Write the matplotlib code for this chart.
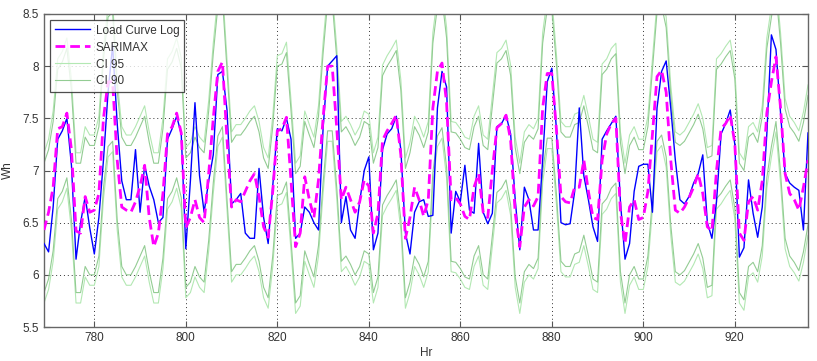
import numpy as np
import matplotlib
matplotlib.use("Agg")
import matplotlib.pyplot as plt

plt.rcParams["font.family"] = ["Liberation Sans", "DejaVu Sans"]

hours = np.arange(769, 937)

load_log = [
    6.30, 6.22, 6.65, 7.30, 7.38, 7.50, 7.05, 6.15, 6.50, 6.75, 6.45, 6.20,
    6.55, 7.10, 7.75, 8.20, 7.45, 6.90, 6.72, 6.72, 7.20, 6.60, 7.05, 6.85,
    6.72, 6.50, 6.55, 7.30, 7.40, 7.52, 7.35, 6.25, 6.90, 7.65, 6.95, 6.60,
    6.90, 7.15, 7.92, 7.95, 7.58, 6.68, 6.72, 6.78, 6.40, 6.35, 6.35, 7.02,
    6.55, 6.30, 6.85, 7.40, 7.38, 7.50, 7.30, 6.35, 6.40, 6.65, 6.60, 6.50,
    6.43, 7.40, 8.00, 8.05, 8.10, 6.50, 6.75, 6.43, 6.35, 6.70, 7.00, 7.13,
    6.24, 6.40, 7.20, 7.35, 7.40, 7.52, 7.20, 6.40, 6.20, 6.60, 6.70, 6.72,
    6.56, 6.57, 7.60, 7.95, 7.80, 6.40, 6.80, 6.70, 7.05, 6.62, 6.59, 7.26,
    6.60, 6.49, 6.59, 7.42, 7.45, 7.53, 7.35, 6.72, 6.24, 6.84, 6.72, 6.43,
    6.43, 7.10, 7.85, 7.98, 7.40, 6.50, 6.48, 6.49, 6.80, 7.60, 6.95, 6.72,
    6.46, 6.32, 7.30, 7.38, 7.45, 7.52, 6.70, 6.15, 6.30, 6.80, 7.04, 7.06,
    7.06, 6.60, 7.60, 7.95, 8.05, 7.60, 7.10, 6.72, 6.68, 6.75, 6.88, 6.97,
    7.15, 6.50, 6.35, 6.70, 7.35, 7.45, 7.58, 7.25, 6.17, 6.26, 6.91, 6.59,
    6.36, 6.65, 7.35, 8.30, 8.16, 7.55, 6.97, 6.88, 6.84, 6.81, 6.43, 7.36,
]

sarimax = [
    6.43, 6.60, 6.84, 7.40, 7.42, 7.55, 7.20, 6.42, 6.40, 6.75, 6.60, 6.62,
    6.78, 7.50, 7.85, 7.85, 7.10, 6.65, 6.62, 6.60, 6.70, 6.85, 7.05, 6.55,
    6.27, 6.40, 6.78, 7.35, 7.42, 7.55, 7.36, 6.45, 6.55, 6.72, 6.55, 6.50,
    6.97, 7.50, 7.95, 8.04, 7.30, 6.65, 6.72, 6.70, 6.80, 6.90, 6.97, 6.75,
    6.46, 6.36, 6.80, 7.38, 7.40, 7.51, 6.90, 6.27, 6.40, 6.94, 6.72, 6.55,
    6.91, 7.50, 8.00, 8.00, 7.40, 6.72, 6.84, 6.72, 6.60, 6.70, 6.91, 6.85,
    6.40, 6.59, 7.29, 7.38, 7.45, 7.53, 7.15, 6.35, 6.55, 6.84, 6.72, 6.56,
    6.72, 7.60, 7.95, 8.03, 7.65, 6.72, 6.74, 6.68, 6.56, 6.53, 6.84, 6.97,
    6.60, 6.55, 7.00, 7.41, 7.45, 7.53, 7.29, 6.59, 6.27, 6.65, 6.72, 6.66,
    6.75, 7.60, 7.93, 7.93, 7.40, 6.75, 6.70, 6.69, 6.84, 6.84, 7.10, 6.80,
    6.55, 6.53, 7.10, 7.35, 7.45, 7.50, 6.60, 6.30, 6.65, 6.72, 6.53, 6.55,
    6.80, 7.35, 7.90, 7.96, 7.75, 7.10, 6.62, 6.59, 6.65, 6.74, 6.84, 6.97,
    6.78, 6.46, 6.42, 7.00, 7.40, 7.45, 7.53, 7.26, 6.40, 6.33, 6.70, 6.75,
    6.62, 6.90, 7.55, 7.85, 8.09, 7.60, 6.97, 6.78, 6.72, 6.62, 6.84, 7.10,
]

ci95_hi = [
    7.17, 7.30, 7.57, 8.07, 8.14, 8.27, 7.87, 7.17, 7.17, 7.42, 7.34, 7.34,
    7.52, 8.17, 8.57, 8.62, 7.87, 7.42, 7.34, 7.34, 7.42, 7.52, 7.62, 7.37,
    7.17, 7.17, 7.50, 8.07, 8.14, 8.27, 8.08, 7.22, 7.27, 7.42, 7.32, 7.27,
    7.67, 8.22, 8.67, 8.76, 8.07, 7.37, 7.44, 7.44, 7.50, 7.57, 7.62, 7.47,
    7.22, 7.12, 7.52, 8.10, 8.12, 8.23, 7.67, 7.07, 7.14, 7.57, 7.44, 7.32,
    7.62, 8.22, 8.72, 8.72, 8.17, 7.47, 7.52, 7.44, 7.34, 7.42, 7.57, 7.54,
    7.17, 7.32, 8.01, 8.10, 8.17, 8.25, 7.87, 7.12, 7.27, 7.52, 7.44, 7.32,
    7.47, 8.32, 8.67, 8.75, 8.37, 7.47, 7.46, 7.40, 7.32, 7.30, 7.52, 7.62,
    7.34, 7.30, 7.72, 8.13, 8.17, 8.25, 8.01, 7.32, 7.07, 7.37, 7.44, 7.40,
    7.50, 8.32, 8.65, 8.65, 8.12, 7.47, 7.42, 7.42, 7.54, 7.56, 7.72, 7.52,
    7.30, 7.27, 8.02, 8.07, 8.17, 8.22, 7.37, 7.07, 7.34, 7.42, 7.30, 7.30,
    7.52, 8.07, 8.62, 8.68, 8.47, 7.82, 7.37, 7.34, 7.38, 7.46, 7.54, 7.64,
    7.50, 7.22, 7.24, 8.07, 8.12, 8.19, 8.25, 7.98, 7.17, 7.10, 7.42, 7.46,
    7.37, 7.62, 8.27, 8.57, 8.81, 8.32, 7.69, 7.52, 7.46, 7.38, 7.56, 7.82,
]

ci90_hi = [
    7.07, 7.20, 7.47, 7.97, 8.04, 8.17, 7.77, 7.07, 7.07, 7.32, 7.24, 7.24,
    7.42, 8.07, 8.47, 8.52, 7.77, 7.32, 7.24, 7.24, 7.32, 7.42, 7.52, 7.27,
    7.07, 7.07, 7.40, 7.97, 8.04, 8.17, 7.98, 7.12, 7.17, 7.32, 7.22, 7.17,
    7.57, 8.12, 8.57, 8.66, 7.97, 7.27, 7.34, 7.34, 7.40, 7.47, 7.52, 7.37,
    7.12, 7.02, 7.42, 8.00, 8.02, 8.13, 7.57, 6.97, 7.04, 7.47, 7.34, 7.22,
    7.52, 8.12, 8.62, 8.62, 8.07, 7.37, 7.42, 7.34, 7.24, 7.32, 7.47, 7.44,
    7.07, 7.22, 7.91, 8.00, 8.07, 8.15, 7.77, 7.02, 7.17, 7.42, 7.34, 7.22,
    7.37, 8.22, 8.57, 8.65, 8.27, 7.37, 7.36, 7.30, 7.22, 7.20, 7.42, 7.52,
    7.24, 7.20, 7.62, 8.03, 8.07, 8.15, 7.91, 7.22, 6.97, 7.27, 7.34, 7.30,
    7.40, 8.22, 8.55, 8.55, 8.02, 7.37, 7.32, 7.32, 7.44, 7.46, 7.62, 7.42,
    7.20, 7.17, 7.92, 7.97, 8.07, 8.12, 7.27, 6.97, 7.24, 7.32, 7.20, 7.20,
    7.42, 7.97, 8.52, 8.58, 8.37, 7.72, 7.27, 7.24, 7.28, 7.36, 7.44, 7.54,
    7.40, 7.12, 7.14, 7.97, 8.02, 8.09, 8.15, 7.88, 7.07, 7.00, 7.32, 7.36,
    7.27, 7.52, 8.17, 8.47, 8.71, 8.22, 7.59, 7.42, 7.36, 7.28, 7.46, 7.72,
]

ci90_lo = [
    5.83, 5.96, 6.23, 6.73, 6.80, 6.93, 6.53, 5.83, 5.83, 6.08, 6.00, 6.00,
    6.18, 6.83, 7.23, 7.28, 6.53, 6.08, 6.00, 6.00, 6.08, 6.18, 6.28, 6.03,
    5.83, 5.83, 6.16, 6.73, 6.80, 6.93, 6.74, 5.88, 5.93, 6.08, 5.98, 5.93,
    6.33, 6.88, 7.33, 7.42, 6.73, 6.03, 6.10, 6.10, 6.16, 6.23, 6.28, 6.13,
    5.88, 5.78, 6.18, 6.76, 6.78, 6.89, 6.33, 5.73, 5.80, 6.23, 6.10, 5.98,
    6.28, 6.88, 7.38, 7.38, 6.83, 6.13, 6.18, 6.10, 6.00, 6.08, 6.23, 6.20,
    5.83, 5.98, 6.67, 6.76, 6.83, 6.91, 6.53, 5.78, 5.93, 6.18, 6.10, 5.98,
    6.13, 6.98, 7.33, 7.41, 7.03, 6.13, 6.12, 6.06, 5.98, 5.96, 6.18, 6.28,
    6.00, 5.96, 6.38, 6.79, 6.83, 6.91, 6.67, 5.98, 5.73, 6.03, 6.10, 6.06,
    6.16, 6.98, 7.31, 7.31, 6.78, 6.13, 6.08, 6.08, 6.20, 6.22, 6.38, 6.18,
    5.96, 5.93, 6.68, 6.73, 6.83, 6.88, 6.03, 5.73, 6.00, 6.08, 5.96, 5.96,
    6.18, 6.73, 7.28, 7.34, 7.13, 6.48, 6.03, 6.00, 6.04, 6.12, 6.20, 6.30,
    6.16, 5.88, 5.90, 6.73, 6.78, 6.85, 6.91, 6.64, 5.83, 5.76, 6.08, 6.12,
    6.03, 6.28, 6.93, 7.23, 7.47, 6.98, 6.35, 6.18, 6.12, 6.04, 6.22, 6.48,
]

ci95_lo = [
    5.73, 5.86, 6.13, 6.63, 6.70, 6.83, 6.43, 5.73, 5.73, 5.98, 5.90, 5.90,
    6.08, 6.73, 7.13, 7.18, 6.43, 5.98, 5.90, 5.90, 5.98, 6.08, 6.18, 5.93,
    5.73, 5.73, 6.06, 6.63, 6.70, 6.83, 6.64, 5.78, 5.83, 5.98, 5.88, 5.83,
    6.23, 6.78, 7.23, 7.32, 6.63, 5.93, 6.00, 6.00, 6.06, 6.13, 6.18, 6.03,
    5.78, 5.68, 6.08, 6.66, 6.68, 6.79, 6.23, 5.63, 5.70, 6.13, 6.00, 5.88,
    6.18, 6.78, 7.28, 7.28, 6.73, 6.03, 6.08, 6.00, 5.90, 5.98, 6.13, 6.10,
    5.73, 5.88, 6.57, 6.66, 6.73, 6.81, 6.43, 5.68, 5.83, 6.08, 6.00, 5.88,
    6.03, 6.88, 7.23, 7.31, 6.93, 6.03, 6.02, 5.96, 5.88, 5.86, 6.08, 6.18,
    5.90, 5.86, 6.28, 6.69, 6.73, 6.81, 6.57, 5.88, 5.63, 5.93, 6.00, 5.96,
    6.06, 6.88, 7.21, 7.21, 6.68, 6.03, 5.98, 5.98, 6.10, 6.12, 6.28, 6.08,
    5.86, 5.83, 6.58, 6.63, 6.73, 6.78, 5.93, 5.63, 5.90, 5.98, 5.86, 5.86,
    6.08, 6.63, 7.18, 7.24, 7.03, 6.38, 5.93, 5.90, 5.94, 6.02, 6.10, 6.20,
    6.06, 5.78, 5.80, 6.63, 6.68, 6.75, 6.81, 6.54, 5.73, 5.66, 5.98, 6.02,
    5.93, 6.18, 6.83, 7.13, 7.37, 6.88, 6.25, 6.08, 6.02, 5.94, 6.12, 6.38,
]

CI95_COLOR = "#b3e8b3"
CI90_COLOR = "#93cc93"

fig = plt.figure(figsize=(8.17, 3.61), dpi=100)
ax = fig.add_axes([44 / 817, 34 / 361, 764 / 817, 313 / 361])

ax.plot(hours, load_log, color="#0000ff", lw=1.0, label="Load Curve Log", zorder=4)
ax.plot(hours, sarimax, color="#ff00ff", lw=2.0, ls=(0, (3.5, 1.8)), label="SARIMAX", zorder=5)
ax.plot(hours, ci95_hi, color=CI95_COLOR, lw=0.8, label="CI 95", zorder=2)
ax.plot(hours, ci95_lo, color=CI95_COLOR, lw=0.8, zorder=2)
ax.plot(hours, ci90_hi, color=CI90_COLOR, lw=0.8, label="CI 90", zorder=2)
ax.plot(hours, ci90_lo, color=CI90_COLOR, lw=0.8, zorder=2)

ax.set_xlim(769, 936)
ax.set_ylim(5.5, 8.5)
ax.set_xticks(np.arange(780, 921, 20))
ax.set_yticks([5.5, 6, 6.5, 7, 7.5, 8, 8.5])
ax.set_yticklabels(["5.5", "6", "6.5", "7", "7.5", "8", "8.5"])
ax.grid(True, ls=(0, (1, 3)), color="#333333", lw=0.7)
ax.tick_params(direction="in", length=4, top=True, right=True,
               labelsize=8.5, labelcolor="#333333", color="#555555")
for s in ax.spines.values():
    s.set_color("#666666")
    s.set_linewidth(1.0)

ax.set_xlabel("Hr", fontsize=8.5, color="#333333", labelpad=2)
ax.set_ylabel("Wh", fontsize=8.5, color="#333333", labelpad=6)

leg = ax.legend(loc="upper left", fontsize=8.5, frameon=True, fancybox=False,
                edgecolor="#222222", borderpad=0.4, labelspacing=0.42,
                handlelength=3.0, handletextpad=0.5, borderaxespad=0.5)
leg.get_frame().set_linewidth(0.9)
for t in leg.get_texts():
    t.set_color("#333333")

fig.savefig("out.png", dpi=100)
